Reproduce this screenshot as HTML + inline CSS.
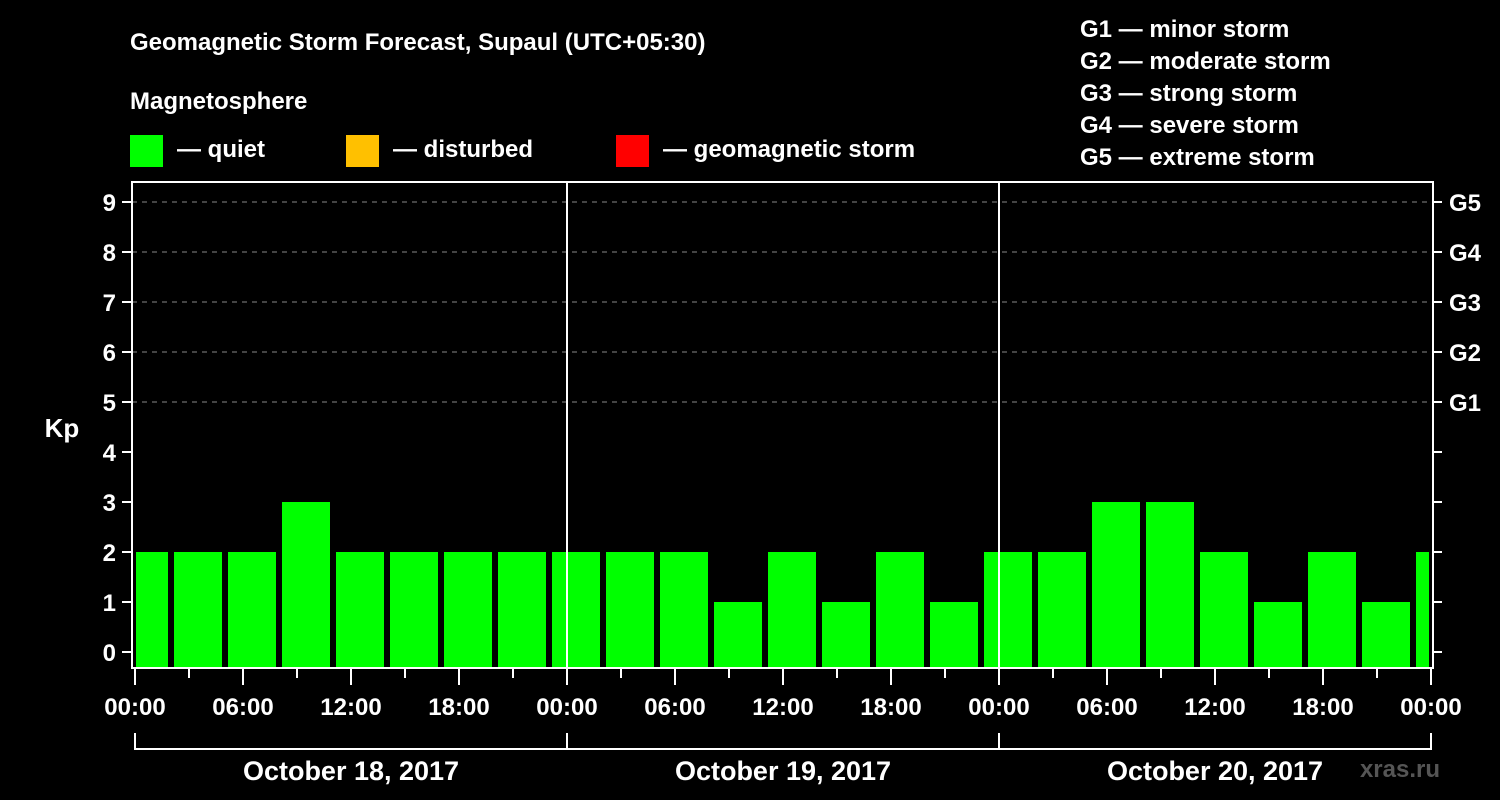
<!DOCTYPE html>
<html><head><meta charset="utf-8"><style>
html,body{margin:0;padding:0;background:#000;}
svg{display:block;font-family:"Liberation Sans",Arial,sans-serif;font-weight:bold;}
</style></head><body>
<svg id="chart" width="1500" height="800" viewBox="0 0 1500 800">
<text x="130" y="50" fill="#fff" font-size="24">Geomagnetic Storm Forecast, Supaul (UTC+05:30)</text>
<text x="130" y="109" fill="#fff" font-size="24">Magnetosphere</text>
<g><rect x="130" y="135" width="33" height="32" fill="#00ff00"/><text x="177" y="157" fill="#fff" font-size="24">— quiet</text></g>
<g><rect x="346" y="135" width="33" height="32" fill="#ffc000"/><text x="393" y="157" fill="#fff" font-size="24">— disturbed</text></g>
<g><rect x="616" y="135" width="33" height="32" fill="#ff0000"/><text x="663" y="157" fill="#fff" font-size="24">— geomagnetic storm</text></g>
<g fill="#fff" font-size="24">
<text x="1080" y="37">G1 — minor storm</text>
<text x="1080" y="69">G2 — moderate storm</text>
<text x="1080" y="101">G3 — strong storm</text>
<text x="1080" y="133">G4 — severe storm</text>
<text x="1080" y="165">G5 — extreme storm</text>
</g>
<text x="62" y="437" fill="#fff" font-size="26" text-anchor="middle">Kp</text>
<g id="grid"></g>
<g id="bars"></g>
<g id="axes"></g>
<text x="1440" y="777" fill="#555" font-size="24" text-anchor="end">xras.ru</text>
</svg>
<script>
const kpValues=[2,2,2,3,2,2,2,2,2,2,2,1,2,1,2,1,2,2,3,3,2,1,2,1,2];
const yTicks=[0,1,2,3,4,5,6,7,8,9];
const gLabels=["G1","G2","G3","G4","G5"];
const xTickLabels=["00:00","06:00","12:00","18:00","00:00","06:00","12:00","18:00","00:00","06:00","12:00","18:00","00:00"];
const dayLabels=["October 18, 2017","October 19, 2017","October 20, 2017"];
const NS="http://www.w3.org/2000/svg";
const X0=135,PXH=18,PL=132,PR=1433,PT=182,PB=668;
const xh=h=>X0+h*PXH;
const y=v=>652-v*50;
function mk(tag,attrs,parent,text){const e=document.createElementNS(NS,tag);for(const k in attrs)e.setAttribute(k,attrs[k]);if(text!==undefined)e.textContent=text;parent.appendChild(e);return e;}
const grid=document.getElementById('grid'),bars=document.getElementById('bars'),axes=document.getElementById('axes');
yTicks.forEach(v=>{
 if(v>=5){const l=mk('line',{x1:PL,x2:PR,y1:y(v),y2:y(v),stroke:'#888','stroke-dasharray':'5,5','stroke-width':1},grid);
 
 }
 const t=mk('line',{x1:122,x2:PL,y1:y(v),y2:y(v),stroke:'#fff','stroke-width':2},axes);
 
 
 const lb=mk('text',{x:116,y:y(v)+9,fill:'#fff','font-size':24,'text-anchor':'end'},axes,String(v));
 
 
 const rt=mk('line',{x1:PR,x2:1442,y1:y(v),y2:y(v),stroke:'#fff','stroke-width':2},axes);
 
 
});
gLabels.forEach((g,i)=>{
 const t=mk('text',{x:1449,y:y(5+i)+9,fill:'#fff','font-size':24},axes,g);
 
 
});
kpValues.forEach((v,k)=>{
 let x1=xh(3*k-1)+3,x2=x1+48;
 x1=Math.max(x1,PL+4);x2=Math.min(x2,PR-4);
 const col=v>=5?'#ff0000':(v>=4?'#ffc000':'#00ff00');
 const r=mk('rect',{x:x1,y:y(v),width:x2-x1,height:PB-y(v),fill:col},bars);
 
 
});
for(let d=1;d<3;d++){const l=mk('line',{x1:xh(24*d),x2:xh(24*d),y1:PT,y2:PB,stroke:'#fff','stroke-width':2},axes);
 
 }
const fr=mk('rect',{x:PL,y:PT,width:PR-PL,height:PB-PT,fill:'none',stroke:'#fff','stroke-width':2},axes);


for(let h=0;h<=72;h+=3){const major=h%6===0;
 const t=mk('line',{x1:xh(h),x2:xh(h),y1:PB,y2:PB+(major?17:10),stroke:'#fff','stroke-width':2},axes);
 
 }
xTickLabels.forEach((s,i)=>{
 const t=mk('text',{x:xh(i*6),y:715,fill:'#fff','font-size':24,'text-anchor':'middle'},axes,s);
 
 
});
dayLabels.forEach((s,i)=>{
 const a=xh(24*i),b=xh(24*(i+1));
 const p=mk('path',{d:`M${a},733V749H${b}V733`,fill:'none',stroke:'#fff','stroke-width':2},axes);
 
 
 const t=mk('text',{x:(a+b)/2,y:780,fill:'#fff','font-size':27,'text-anchor':'middle'},axes,s);
 
 
});
</script>
</body></html>
